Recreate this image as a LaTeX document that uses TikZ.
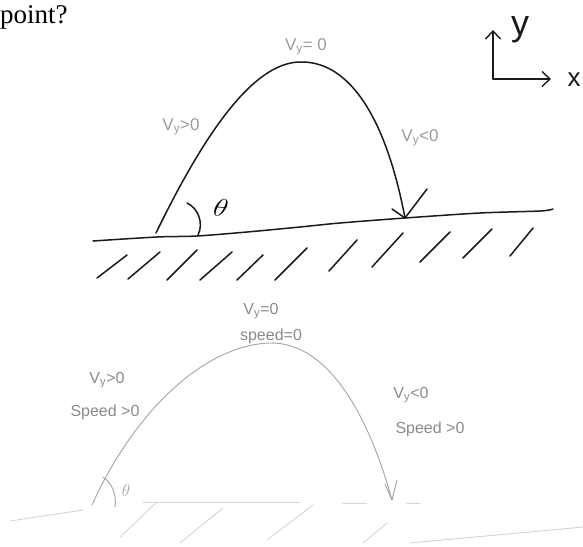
\documentclass[tikz,border=0pt]{standalone}
\usepackage{fontspec}
\setmainfont{Liberation Serif}
\newfontfamily\handfont{Liberation Sans}
\usetikzlibrary{arrows.meta}
\definecolor{ink}{HTML}{1A1A1A}
\definecolor{pencil}{HTML}{9A9A9A}
\definecolor{faint}{HTML}{A3A3A3}
\definecolor{ghost}{HTML}{D4D4D4}
\begin{document}
\begin{tikzpicture}[x=1pt,y=-1pt,
  inkline/.style={draw=ink, line width=1.5pt, line cap=round, line join=round},
  faintline/.style={draw=faint, line width=0.9pt, line cap=round, line join=round},
  ghostline/.style={draw=ghost, line width=0.9pt, line cap=round},
  hand/.style={font=\handfont\fontsize{17}{17}\selectfont, text=pencil, inner sep=0pt},
  handb/.style={font=\handfont\fontsize{16}{16}\selectfont, text=faint!85!black, inner sep=0pt},
  axistip/.style={-{Straight Barb[length=8pt,width=15pt,line width=1.4pt]}}]
\useasboundingbox (0,0) rectangle (583,546);

% question text
\node[anchor=base west, inner sep=0pt, font=\fontsize{27}{27}\selectfont] (question) at (0,23) {point?};

% ---------------- top sketch ----------------
\coordinate (launch) at (156,233);
\coordinate (apex) at (303,62);
\coordinate (land) at (405,218);
\coordinate (barbL) at (392,209);
\coordinate (barbR) at (427,189);

\draw[inkline] (launch) .. controls (210,122) and (258,60) .. (apex)
  .. controls (350,63) and (386,118) .. (land);
\draw[inkline] (barbL) -- (land) -- (barbR);

% ground
\draw[inkline] plot[smooth, tension=0.5] coordinates {
  (93,241) (157,237) (197,236) (247,232) (300,227) (340,223) (405,218) (480,213) (540,211) (553,209)};

% hatching
\foreach \a/\b/\c/\d in {97/278/127/255, 128/279/160/252, 167/280/197/250,
  200/280/232/252, 237/280/263/255, 275/280/307/248, 329/271/357/240,
  372/267/403/233, 420/262/450/232, 463/258/492/229, 510/256/533/228}
  \draw[inkline] (\a,\b) -- (\c,\d);

% angle arc and theta
\coordinate (arcA) at (198,235);
\coordinate (arcB) at (187,203);
\draw[inkline] (arcA) .. controls (204,223) and (198,208) .. (arcB);
\node[font=\fontsize{28}{28}\selectfont, xscale=1.2, rotate=-8, inner sep=0pt] (thetaTop) at (221,208) {$\theta$};

% labels
\node[hand] (vyZeroTop) at (306,47) {V\textsubscript{y}= 0};
\node[hand] (vyPosTop) at (181,127) {V\textsubscript{y}>0};
\node[hand] (vyNegTop) at (420,138) {V\textsubscript{y}<0};

% axes
\coordinate (origin) at (493,79);
\coordinate (yend) at (493,30);
\coordinate (xend) at (551,79);
\draw[inkline, axistip] (origin) -- (yend);
\draw[inkline, axistip] (origin) -- (xend);
\node[font=\handfont\fontsize{36}{36}\selectfont, text=ink, inner sep=0pt] (ylabel) at (520,30) {y};
\node[font=\handfont\fontsize{26}{26}\selectfont, text=ink, inner sep=0pt] (xlabel) at (574,80) {x};

% ---------------- bottom sketch ----------------
\coordinate (blaunch) at (92,505);
\coordinate (bapex) at (270,343);
\coordinate (bland) at (392,500);
\coordinate (bbarbL) at (385,484);
\coordinate (bbarbR) at (397,480);

\draw[faintline] (blaunch) .. controls (135,410) and (205,345) .. (bapex)
  .. controls (330,342) and (370,420) .. (bland);
\draw[faintline] (bbarbL) -- (bland) -- (bbarbR);

% bottom angle
\draw[faintline] (115,507) .. controls (117,495) and (112,483) .. (103,477);
\node[font=\fontsize{16}{16}\selectfont, text=faint, inner sep=0pt] (thetaBot) at (126,490) {$\theta$};

% bottom ground (very faint)
\draw[ghostline] (10,521) -- (83,510);
\draw[ghostline] (143,502) -- (300,502);
\draw[ghostline] (343,503) -- (367,503);
\draw[ghostline] (407,503) -- (420,503);
\draw[ghostline] (410,543) -- (583,527);
\foreach \a/\b/\c/\d in {120/537/157/502, 180/543/223/508, 267/540/313/505, 363/543/387/523}
  \draw[ghostline] (\a,\b) -- (\c,\d);

% bottom labels
\node[handb] (bvyZero) at (261,311) {V\textsubscript{y}=0};
\node[handb] (bspeedZero) at (271,336) {speed=0};
\node[handb] (bvyPos) at (107,380) {V\textsubscript{y}>0};
\node[handb] (bspeedPos) at (105,412) {Speed >0};
\node[handb] (bvyNeg) at (411,395) {V\textsubscript{y}<0};
\node[handb] (bspeedNeg) at (430,429) {Speed >0};
\end{tikzpicture}
\end{document}
